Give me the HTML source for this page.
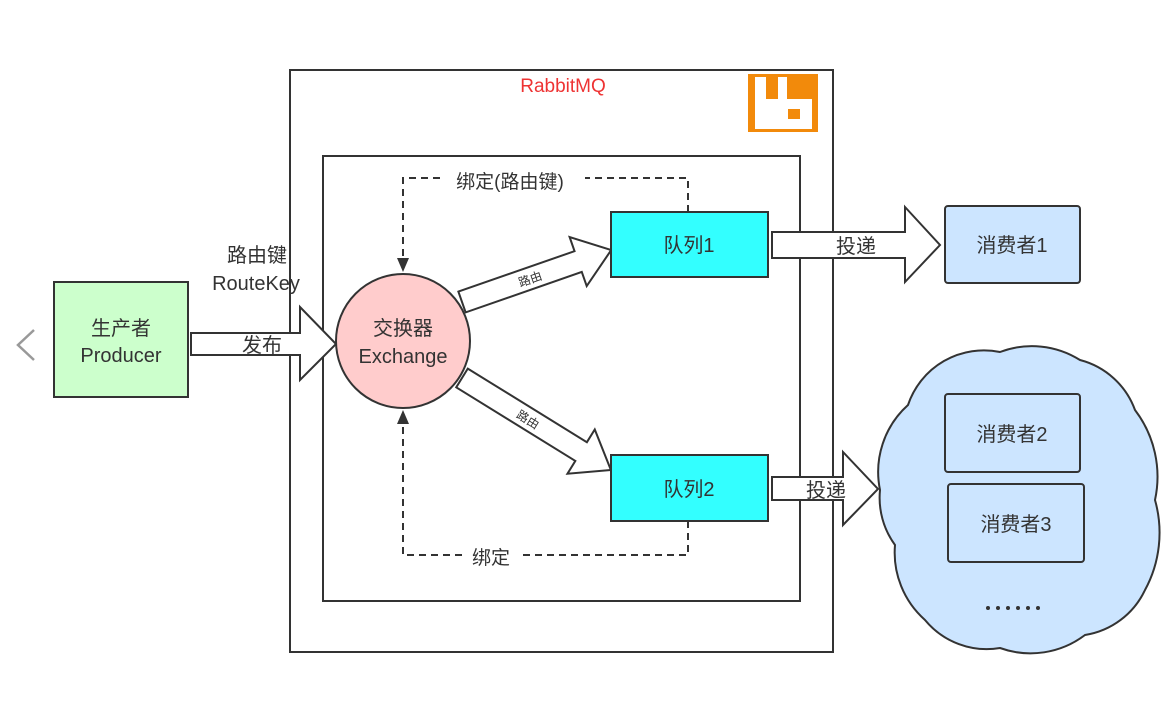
<!DOCTYPE html>
<html><head><meta charset="utf-8"><style>
body{margin:0;background:#fff;}
svg text{font-family:"Liberation Sans","Noto Sans CJK SC",sans-serif;fill:#333;}
</style></head><body>
<svg width="1165" height="702" viewBox="0 0 1165 702" xmlns="http://www.w3.org/2000/svg">
<rect x="0" y="0" width="1165" height="702" fill="#fff"/>
<polyline points="34,330 18,345 34,360" fill="none" stroke="#999" stroke-width="2.5"/>
<rect x="290" y="70" width="543" height="582" fill="none" stroke="#333" stroke-width="2"/>
<rect x="323" y="156" width="477" height="445" fill="none" stroke="#333" stroke-width="2"/>
<text x="563" y="92" font-size="19" style="fill:#ee3333" text-anchor="middle">RabbitMQ</text>
<rect x="748" y="74" width="70" height="58" fill="#f28a0b"/>
<path d="M755,77 H766 V99 H812 V129 H755 Z" fill="#fff"/>
<rect x="778" y="77" width="9" height="23" fill="#fff"/>
<rect x="788" y="109" width="12" height="10" fill="#f28a0b"/>
<rect x="54" y="282" width="134" height="115" fill="#ccffcc" stroke="#333" stroke-width="2"/>
<text x="121" y="335" font-size="20" text-anchor="middle">生产者</text>
<text x="121" y="362" font-size="20" text-anchor="middle">Producer</text>
<text x="257" y="262" font-size="20" text-anchor="middle">路由键</text>
<text x="256" y="290" font-size="20" text-anchor="middle">RouteKey</text>
<path d="M191,333 H300 V307 L336,344 L300,380 V355 H191 Z" fill="#fff" stroke="#333" stroke-width="2"/>
<text x="262" y="352" font-size="20" text-anchor="middle">发布</text>
<path d="M688,212 V178 H585 M440,178 H403 V262" fill="none" stroke="#333" stroke-width="2" stroke-dasharray="7,5"/>
<path d="M397,258 L403,272 L409,258 Z" fill="#333"/>
<text x="510" y="188" font-size="19" text-anchor="middle">绑定(路由键)</text>
<path d="M688,521 V555 H520 M462,555 H403 V420" fill="none" stroke="#333" stroke-width="2" stroke-dasharray="7,5"/>
<path d="M397,424 L403,410 L409,424 Z" fill="#333"/>
<text x="491" y="564" font-size="19" text-anchor="middle">绑定</text>
<g transform="translate(462,302) rotate(-19.2)">
<path d="M0,-11 H123 V-26 L158,0 L123,26 V11 H0 Z" fill="#fff" stroke="#333" stroke-width="2"/>
<text x="72" y="5" font-size="12" text-anchor="middle">路由</text>
</g>
<g transform="translate(462,378) rotate(31.7)">
<path d="M0,-11 H140 V-26 L175,0 L140,26 V11 H0 Z" fill="#fff" stroke="#333" stroke-width="2"/>
<text x="78" y="5" font-size="12" text-anchor="middle">路由</text>
</g>
<circle cx="403" cy="341" r="67" fill="#ffcccc" stroke="#333" stroke-width="2"/>
<text x="403" y="335" font-size="20" text-anchor="middle">交换器</text>
<text x="403" y="363" font-size="20" text-anchor="middle">Exchange</text>
<rect x="611" y="212" width="157" height="65" fill="#33ffff" stroke="#333" stroke-width="2"/>
<text x="689" y="252" font-size="20" text-anchor="middle">队列1</text>
<rect x="611" y="455" width="157" height="66" fill="#33ffff" stroke="#333" stroke-width="2"/>
<text x="689" y="496" font-size="20" text-anchor="middle">队列2</text>
<path d="M908,405 A80,80 0 0 1 1000,352 A90,90 0 0 1 1080,360 A80,80 0 0 1 1135,410 A110,110 0 0 1 1155,500 A120,120 0 0 1 1145,590 A80,80 0 0 1 1085,635 A90,90 0 0 1 1000,648 A80,80 0 0 1 925,620 A90,90 0 0 1 895,545 A80,80 0 0 1 880,490 A90,90 0 0 1 908,405 Z" fill="#cce5ff" stroke="#333" stroke-width="2"/>
<path d="M772,232 H905 V207 L940,245 L905,282 V258 H772 Z" fill="#fff" stroke="#333" stroke-width="2"/>
<text x="856" y="253" font-size="20" text-anchor="middle">投递</text>
<path d="M772,477 H843 V452 L878,489 L843,525 V500 H772 Z" fill="#fff" stroke="#333" stroke-width="2"/>
<text x="826" y="497" font-size="20" text-anchor="middle">投递</text>
<rect x="945" y="206" width="135" height="77" rx="3" fill="#cce5ff" stroke="#333" stroke-width="2"/>
<text x="1012" y="252" font-size="20" text-anchor="middle">消费者1</text>
<rect x="945" y="394" width="135" height="78" rx="3" fill="#cce5ff" stroke="#333" stroke-width="2"/>
<text x="1012" y="441" font-size="20" text-anchor="middle">消费者2</text>
<rect x="948" y="484" width="136" height="78" rx="3" fill="#cce5ff" stroke="#333" stroke-width="2"/>
<text x="1016" y="531" font-size="20" text-anchor="middle">消费者3</text>
<g fill="#333"><circle cx="988" cy="608" r="2"/><circle cx="998" cy="608" r="2"/><circle cx="1008" cy="608" r="2"/><circle cx="1018" cy="608" r="2"/><circle cx="1028" cy="608" r="2"/><circle cx="1038" cy="608" r="2"/></g>
</svg>
</body></html>
